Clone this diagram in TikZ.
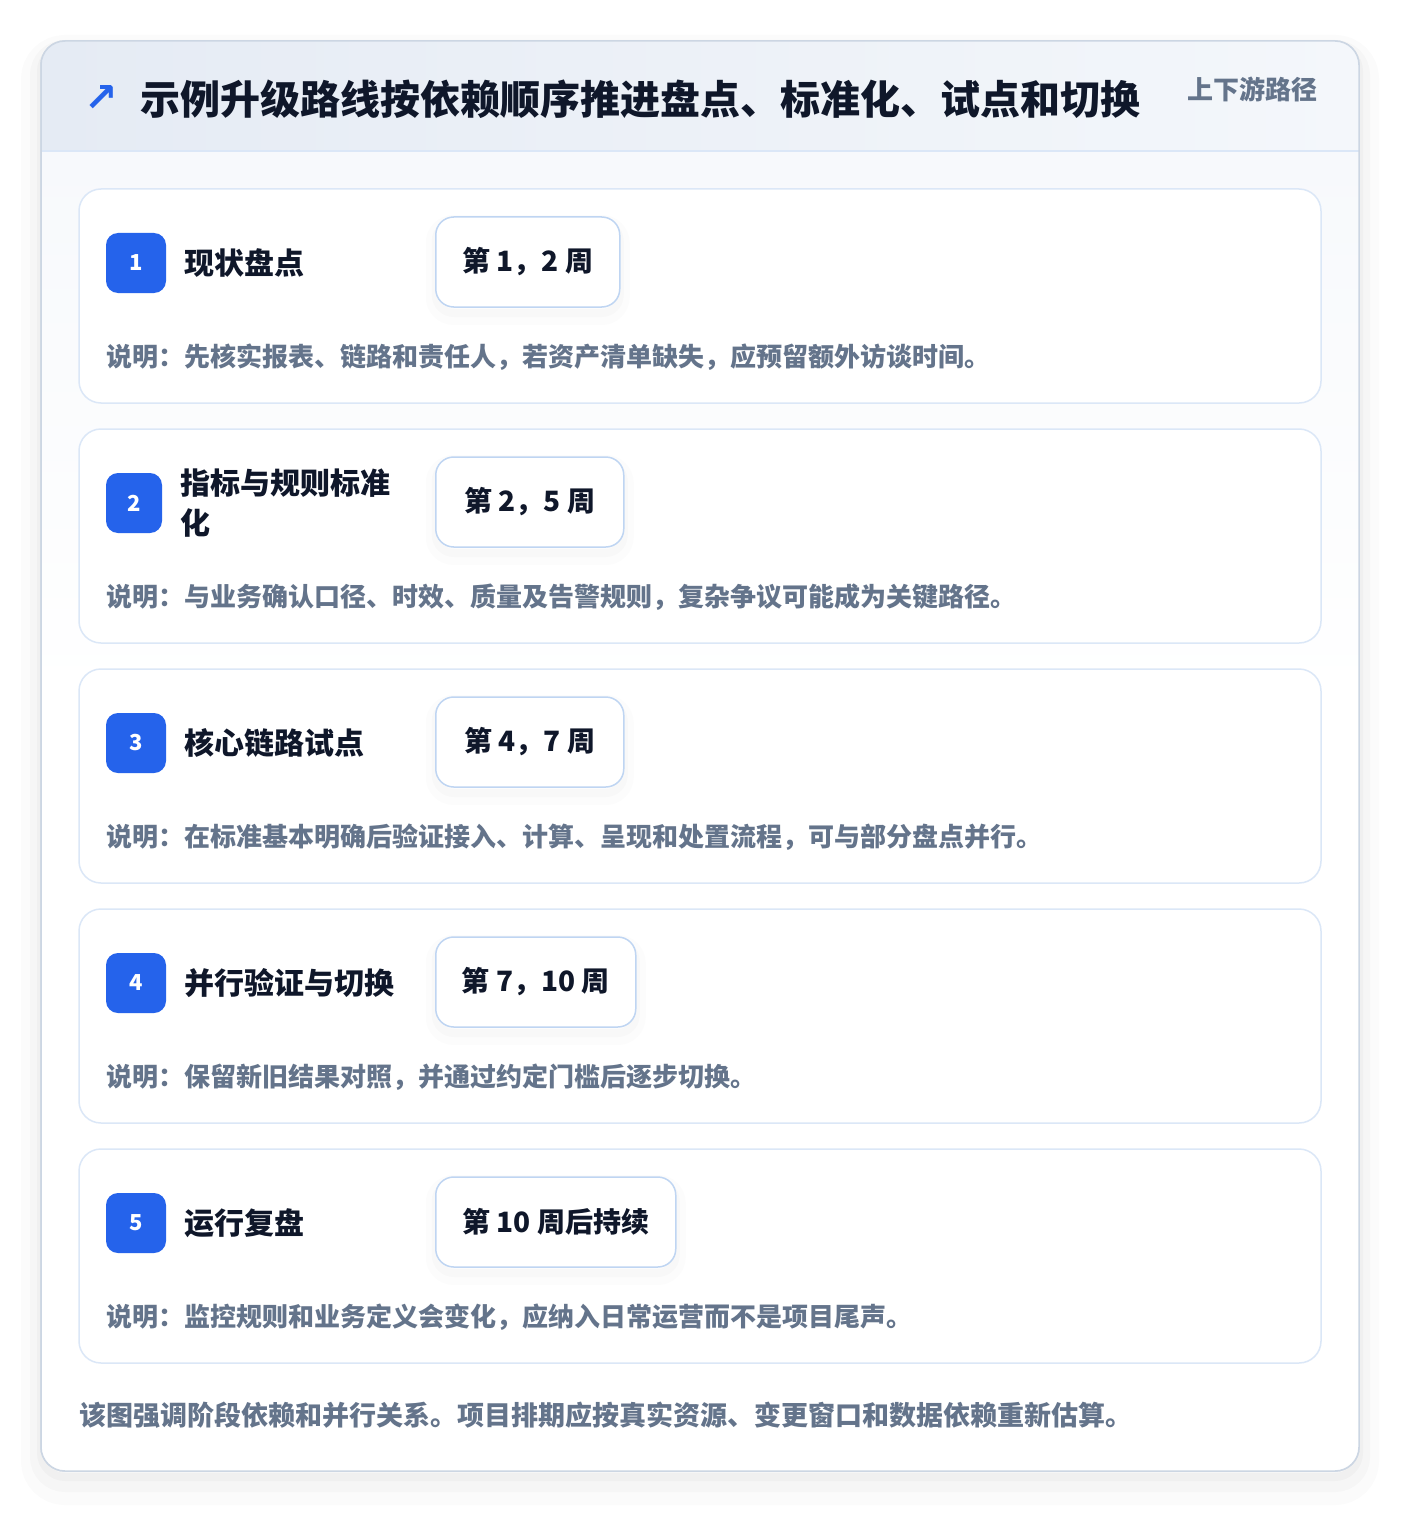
\documentclass[tikz,border=0pt]{standalone}
\usepackage{fontspec}
\setmainfont{Noto Sans CJK SC}
\newfontfamily\arrowfont{DejaVu Sans}
\usepackage{xcolor}
\definecolor{rdBlue}{HTML}{2563EB}
\definecolor{rdInk}{HTML}{0F172A}
\definecolor{rdGray}{HTML}{64748B}
\definecolor{rdLine}{HTML}{DBE7F7}
\definecolor{rdWeekLine}{HTML}{BFD5F2}
\definecolor{rdHeadL}{HTML}{E5EBF4}
\definecolor{rdHeadR}{HTML}{F4F7FB}
\definecolor{rdBody}{HTML}{F7F9FC}
\definecolor{rdFrame}{HTML}{CCD6E3}
\usepackage{tikz}
\usetikzlibrary{positioning}
\tikzset{frame/.style={draw=rdFrame, line width=1.5pt, rounded corners=24pt,
  preaction={draw=black, opacity=0.015, line width=40pt, transform canvas={yshift=-14pt}},
  preaction={draw=black, opacity=0.02, line width=22pt, transform canvas={yshift=-10pt}},
  preaction={draw=black, opacity=0.025, line width=8pt, transform canvas={yshift=-6pt}}}}
\tikzset{stepcard/.style={draw=rdLine, line width=1.5pt, fill=white, rounded corners=22pt, minimum width=1242pt, minimum height=214pt, inner sep=0pt}}
\tikzset{stepnum/.style={fill=rdBlue, rounded corners=12pt, minimum width=60pt, minimum height=60pt, inner sep=0pt, text=white, font=\fontsize{22}{22}\selectfont\bfseries}}
\tikzset{steptitle/.style={anchor=west, inner sep=0pt, align=left, text=rdInk, font=\fontsize{30}{40}\selectfont\bfseries}}
\tikzset{weekbox/.style={anchor=west, draw=rdWeekLine, line width=1.5pt, fill=white, rounded corners=18pt, minimum height=90pt, inner sep=0pt, text=rdInk, font=\fontsize{28}{28}\selectfont\bfseries,
  preaction={draw=black, opacity=0.012, line width=20pt, transform canvas={yshift=-8pt}},
  preaction={draw=black, opacity=0.015, line width=8pt, transform canvas={yshift=-6pt}}}}
\tikzset{stepnote/.style={anchor=west, inner sep=0pt, text=rdGray, font=\fontsize{26}{26}\selectfont\bfseries}}

\begin{document}
\begin{tikzpicture}[x=1pt, y=-1pt]
\useasboundingbox[fill=white] (0,0) rectangle (1400,1514);
%--------------------
% the frame
%--------------------
\path[frame] (41,41) rectangle (1359,1471);
\begin{scope}
\clip[rounded corners=24pt] (41,41) rectangle (1359,1471);
\shade[left color=rdHeadL, right color=rdHeadR] (41,41) rectangle (1359,151);
\shade[top color=rdBody, bottom color=white] (41,151) rectangle (1359,700);
\fill[white] (41,700) rectangle (1359,1471);
\end{scope}
\draw[rdLine, line width=1.5pt] (41,151) -- (1359,151);
\draw[rdFrame, line width=1.5pt, rounded corners=24pt] (41,41) rectangle (1359,1471);

%--------------------
% the header
%--------------------
\node[text=rdBlue, inner sep=0pt, font=\arrowfont\fontsize{40}{40}\selectfont\bfseries](arrow) at (101,99){↗};
\node[anchor=west, inner sep=0pt, text=rdInk, font=\fontsize{40}{40}\selectfont\bfseries](headline) at (140,99){示例升级路线按依赖顺序推进盘点、标准化、试点和切换};
\node[anchor=east, inner sep=0pt, text=rdGray, font=\fontsize{26}{26}\selectfont\bfseries](tag) at (1318,89){上下游路径};

%--------------------
% step 1
%--------------------
\node[stepcard](card1) at (700,296){};
\node[stepnum](num1) at (136,263){1};
\node[steptitle](title1)[right=18pt of num1]{现状盘点};
\node[weekbox, minimum width=184pt](week1) at (435,262){第 1，2 周};
\node[stepnote](note1) at (106,357){说明：先核实报表、链路和责任人，若资产清单缺失，应预留额外访谈时间。};

%--------------------
% step 2
%--------------------
\node[stepcard](card2) at (700,536){};
\node[stepnum, minimum width=56pt](num2) at (134,503){2};
\node[steptitle](title2)[right=18pt of num2]{指标与规则标准\\化};
\node[weekbox, minimum width=188pt](week2) at (435,502){第 2，5 周};
\node[stepnote](note2) at (106,597){说明：与业务确认口径、时效、质量及告警规则，复杂争议可能成为关键路径。};

%--------------------
% step 3
%--------------------
\node[stepcard](card3) at (700,776){};
\node[stepnum](num3) at (136,743){3};
\node[steptitle](title3)[right=18pt of num3]{核心链路试点};
\node[weekbox, minimum width=188pt](week3) at (435,742){第 4，7 周};
\node[stepnote](note3) at (106,837){说明：在标准基本明确后验证接入、计算、呈现和处置流程，可与部分盘点并行。};

%--------------------
% step 4
%--------------------
\node[stepcard](card4) at (700,1016){};
\node[stepnum](num4) at (136,983){4};
\node[steptitle](title4)[right=18pt of num4]{并行验证与切换};
\node[weekbox, minimum width=200pt](week4) at (435,982){第 7，10 周};
\node[stepnote](note4) at (106,1077){说明：保留新旧结果对照，并通过约定门槛后逐步切换。};

%--------------------
% step 5
%--------------------
\node[stepcard](card5) at (700,1256){};
\node[stepnum](num5) at (136,1223){5};
\node[steptitle](title5)[right=18pt of num5]{运行复盘};
\node[weekbox, minimum width=240pt](week5) at (435,1222){第 10 周后持续};
\node[stepnote](note5) at (106,1317){说明：监控规则和业务定义会变化，应纳入日常运营而不是项目尾声。};

%--------------------
% the footer
%--------------------
\node[anchor=west, inner sep=0pt, text=rdGray, font=\fontsize{27}{27}\selectfont\bfseries](footer) at (79,1415){该图强调阶段依赖和并行关系。项目排期应按真实资源、变更窗口和数据依赖重新估算。};
\end{tikzpicture}
\end{document}
